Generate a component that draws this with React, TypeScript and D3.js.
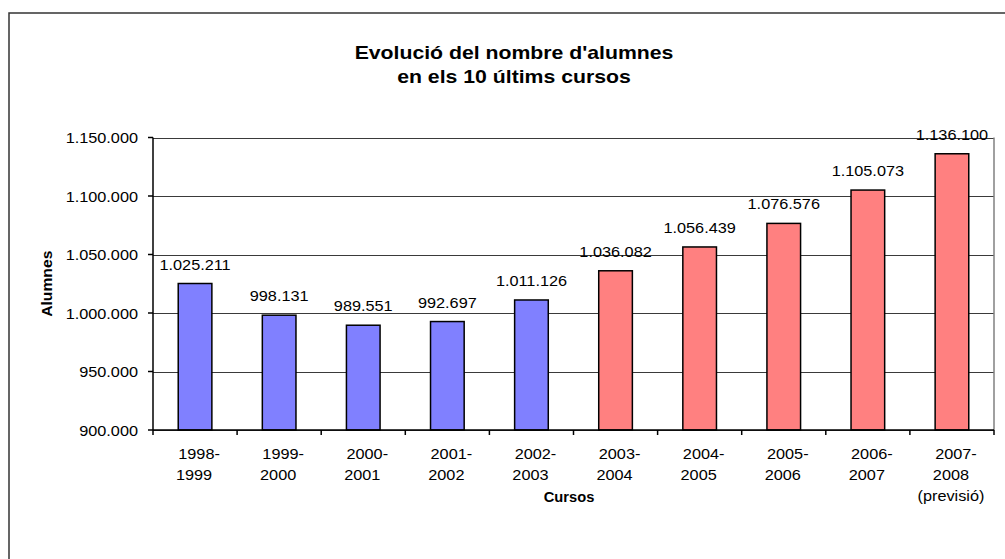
import React from "react";
import * as d3 from "d3";

const categories: string[][] = [
  ["1998-", "1999"],
  ["1999-", "2000"],
  ["2000-", "2001"],
  ["2001-", "2002"],
  ["2002-", "2003"],
  ["2003-", "2004"],
  ["2004-", "2005"],
  ["2005-", "2006"],
  ["2006-", "2007"],
  ["2007-", "2008", "(previsió)"],
];
const values: number[] = [1025211, 998131, 989551, 992697, 1011126, 1036082, 1056439, 1076576, 1105073, 1136100];
const isForecastGroup: boolean[] = [false, false, false, false, false, true, true, true, true, true];
const yTicks: number[] = [900000, 950000, 1000000, 1050000, 1100000, 1150000];
const titleLines: string[] = ["Evolució del nombre d'alumnes", "en els 10 últims cursos"];
const yTitle = "Alumnes";
const xTitle = "Cursos";

const fmt = (v: number) => d3.format(",")(v).replace(/,/g, ".");

function SText(props: { x: number; y: number; sx: number; size: number; anchor?: string; bold?: boolean; rotate?: number; children: React.ReactNode }) {
  const { x, y, sx, size, anchor = "middle", bold, rotate = 0, children } = props;
  return (
    <g transform={`translate(${x},${y}) rotate(${rotate}) scale(${sx},1)`}>
      <text x={0} y={0} textAnchor={anchor} fontSize={size} fontWeight={bold ? "bold" : "normal"} fill="#000">{children}</text>
    </g>
  );
}

export default function App() {
  const W = 1005, H = 559;
  const left = 153, right = 994, top = 137.5, bottom = 430;
  const x = d3.scaleBand<number>().domain(d3.range(values.length)).range([left, right]).paddingInner(0.6).paddingOuter(0.3);
  const xb = d3.scaleBand<number>().domain(d3.range(values.length)).range([left, right]);
  const y = d3.scaleLinear().domain([900000, 1150000]).range([bottom, top]);
  const font = "'Liberation Sans', Arial, sans-serif";
  const sxN = 1.085;
  return (
    <svg width={W} height={H} style={{ position: "absolute", left: 0, top: 0, background: "#fff" }} fontFamily={font}>
      <rect x={9} y={13} width={1010} height={560} fill="#fff" stroke="#333" strokeWidth={1.5} />
      {titleLines.map((t, i) => (
        <SText key={i} x={514} y={59 + i * 24} sx={1.18} size={18} bold>{t}</SText>
      ))}
      {/* gridlines */}
      {yTicks.map((t) => (
        <line key={t} x1={left} x2={right} y1={Math.round(y(t)) + 0.5} y2={Math.round(y(t)) + 0.5} stroke="#3a3a3a" strokeWidth={1} />
      ))}
      <line x1={right} x2={right} y1={top} y2={bottom} stroke="#808080" strokeWidth={1.5} />
      {/* bars */}
      {values.map((v, i) => (
        <rect key={i} x={x(i)!} y={y(v)} width={x.bandwidth()} height={bottom - y(v)}
          fill={isForecastGroup[i] ? "#FF8080" : "#8080FF"} stroke="#000" strokeWidth={1.5} />
      ))}
      {values.map((v, i) => (
        <SText key={i} x={x(i)! + x.bandwidth() / 2} y={y(v) - 14} sx={sxN} size={15}>{fmt(v)}</SText>
      ))}
      {/* axes */}
      <line x1={left} x2={left} y1={top} y2={bottom} stroke="#000" strokeWidth={1.5} />
      <line x1={left} x2={right} y1={bottom} y2={bottom} stroke="#000" strokeWidth={1.5} />
      {yTicks.map((t) => (
        <g key={t}>
          <line x1={left - 5} x2={left} y1={y(t)} y2={y(t)} stroke="#000" strokeWidth={1.5} />
          <SText x={138} y={y(t) + 5.5} sx={sxN} size={15} anchor="end">{fmt(t)}</SText>
        </g>
      ))}
      {d3.range(values.length + 1).map((i) => {
        const px = left + i * xb.bandwidth();
        return <line key={i} x1={px} x2={px} y1={bottom} y2={bottom + 5} stroke="#000" strokeWidth={1.5} />;
      })}
      {categories.map((lines, i) =>
        lines.map((l, j) => (
          <SText key={`${i}-${j}`} x={xb(i)! + xb.bandwidth() / 2 + (j === 0 ? 4 : -1)} y={459 + j * 21} sx={sxN} size={15}>{l}</SText>
        ))
      )}
      <SText x={52} y={(top + bottom) / 2} rotate={-90} sx={1.12} size={14} bold>{yTitle}</SText>
      <SText x={569} y={502} sx={1.05} size={14} bold>{xTitle}</SText>
    </svg>
  );
}
